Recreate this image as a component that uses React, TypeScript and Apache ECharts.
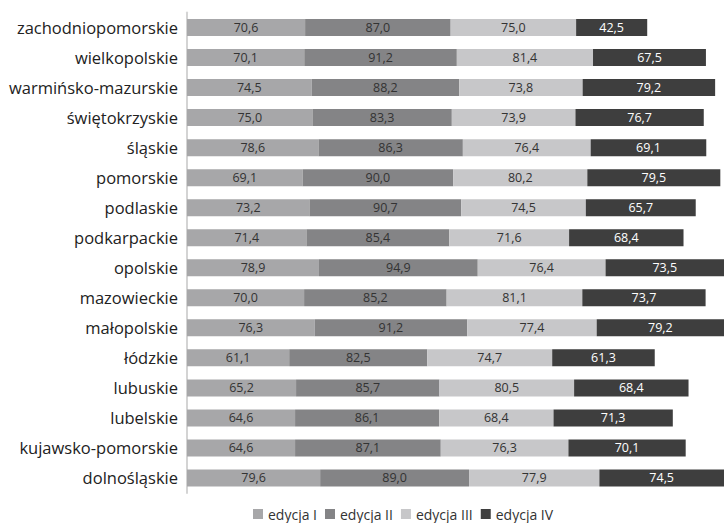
import React, { useEffect, useRef } from "react";
import * as echarts from "echarts";

const categories = [
  "zachodniopomorskie",
  "wielkopolskie",
  "warmińsko-mazurskie",
  "świętokrzyskie",
  "śląskie",
  "pomorskie",
  "podlaskie",
  "podkarpackie",
  "opolskie",
  "mazowieckie",
  "małopolskie",
  "łódzkie",
  "lubuskie",
  "lubelskie",
  "kujawsko-pomorskie",
  "dolnośląskie",
];

const seriesNames = ["edycja I", "edycja II", "edycja III", "edycja IV"];

const edycja1 = [70.6, 70.1, 74.5, 75.0, 78.6, 69.1, 73.2, 71.4, 78.9, 70.0, 76.3, 61.1, 65.2, 64.6, 64.6, 79.6];
const edycja2 = [87.0, 91.2, 88.2, 83.3, 86.3, 90.0, 90.7, 85.4, 94.9, 85.2, 91.2, 82.5, 85.7, 86.1, 87.1, 89.0];
const edycja3 = [75.0, 81.4, 73.8, 73.9, 76.4, 80.2, 74.5, 71.6, 76.4, 81.1, 77.4, 74.7, 80.5, 68.4, 76.3, 77.9];
const edycja4 = [42.5, 67.5, 79.2, 76.7, 69.1, 79.5, 65.7, 68.4, 73.5, 73.7, 79.2, 61.3, 68.4, 71.3, 70.1, 74.5];

const seriesData = [edycja1, edycja2, edycja3, edycja4];
const colors = ["#a7a7a9", "#848486", "#c7c7c9", "#3e3e3e"];
const labelColors = ["#333333", "#333333", "#333333", "#ffffff"];

const FONT = "'Open Sans', 'Noto Sans', sans-serif";

export default function App() {
  const ref = useRef<HTMLDivElement>(null);

  useEffect(() => {
    if (!ref.current) return;
    const chart = echarts.init(ref.current, undefined, { renderer: "svg" });
    chart.setOption({
      animation: false,
      textStyle: { fontFamily: FONT },
      grid: { left: 187, right: 0, top: 12.5, bottom: 30, containLabel: false },
      legend: {
        data: seriesNames,
        left: 253,
        top: 507,
        itemWidth: 10,
        itemHeight: 10,
        itemGap: 8,
        icon: "rect",
        textStyle: { fontFamily: FONT, fontSize: 14, color: "#333333" },
        padding: 0,
      },
      xAxis: {
        type: "value",
        min: 0,
        max: 321,
        show: false,
        splitLine: { show: false },
      },
      yAxis: {
        type: "category",
        data: categories,
        inverse: true,
        axisTick: { show: false },
        axisLine: { show: true, lineStyle: { color: "#d4d4d4", width: 2 } },
        axisLabel: { fontFamily: FONT, fontSize: 16.5, color: "#222222", margin: 9 },
      },
      series: seriesNames.map((name, i) => ({
        name,
        type: "bar",
        stack: "total",
        barWidth: 17,
        data: seriesData[i],
        itemStyle: { color: colors[i] },
        label: {
          show: true,
          position: "inside",
          fontFamily: FONT,
          fontSize: 12.5,
          color: labelColors[i],
          formatter: (p: any) => Number(p.value).toFixed(1).replace(".", ","),
        },
      })),
    });
    return () => chart.dispose();
  }, []);

  return (
    <div
      ref={ref}
      style={{ position: "absolute", left: 0, top: 0, width: 724, height: 523 }}
    />
  );
}
